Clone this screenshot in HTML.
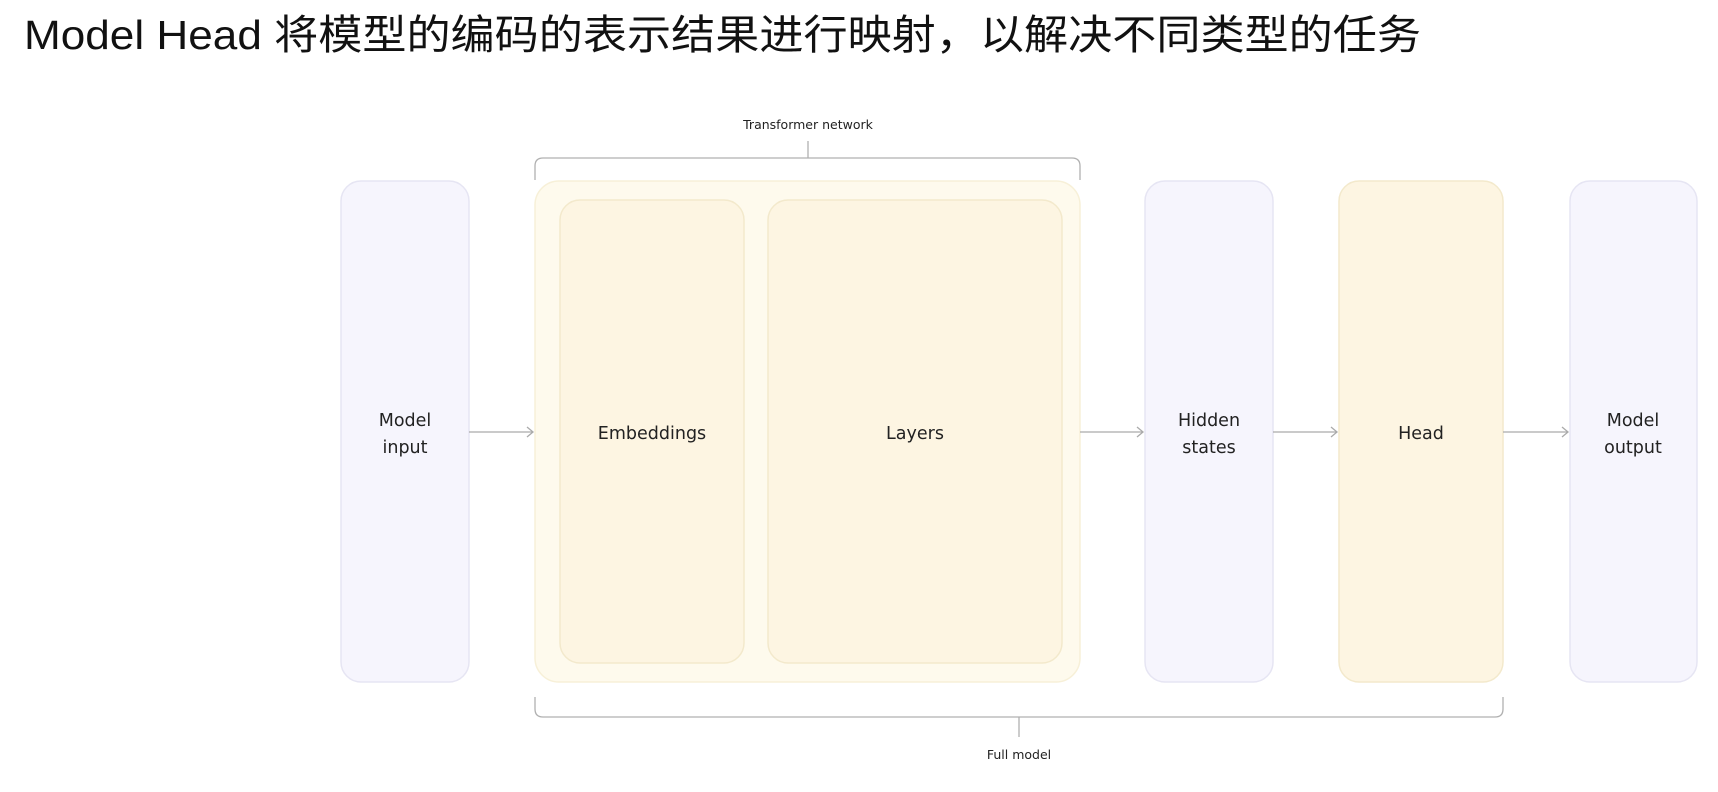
<!DOCTYPE html>
<html><head><meta charset="utf-8"><style>
html,body{margin:0;padding:0;background:#fff;width:1718px;height:792px;overflow:hidden}
svg{display:block}
</style></head><body>
<svg width="1718" height="792" viewBox="0 0 1718 792" xmlns="http://www.w3.org/2000/svg">
<text x="24" y="49" font-family="Liberation Sans, Noto Sans CJK SC, sans-serif" font-size="41" fill="#111" textLength="1397" lengthAdjust="spacingAndGlyphs">Model Head 将模型的编码的表示结果进行映射，以解决不同类型的任务</text>

<g font-family="DejaVu Sans, Liberation Sans, sans-serif" fill="#222" text-anchor="middle">
<text x="808" y="129" font-size="12.5">Transformer network</text>
<text x="1019" y="759" font-size="12.5">Full model</text>
</g>

<g fill="none" stroke="#b0b0b0" stroke-width="1.3">
<path d="M535 180 V166 Q535 158 543 158 H1072 Q1080 158 1080 166 V180"/>
<line x1="808" y1="141" x2="808" y2="158"/>
<path d="M535 697 V709 Q535 717 543 717 H1495 Q1503 717 1503 709 V697"/>
<line x1="1019" y1="717" x2="1019" y2="737"/>
</g>

<rect x="341" y="181" width="128" height="501" rx="20" fill="#f6f5fd" stroke="#e6e5f3" stroke-width="1.5"/>
<rect x="535" y="181" width="545" height="501" rx="24" fill="#fefaed" stroke="#f7f0d8" stroke-width="1.5"/>
<rect x="560" y="200" width="184" height="463" rx="20" fill="#fdf5e2" stroke="#f3e9cc" stroke-width="1.5"/>
<rect x="768" y="200" width="294" height="463" rx="20" fill="#fdf5e2" stroke="#f3e9cc" stroke-width="1.5"/>
<rect x="1145" y="181" width="128" height="501" rx="20" fill="#f6f5fd" stroke="#e6e5f3" stroke-width="1.5"/>
<rect x="1339" y="181" width="164" height="501" rx="20" fill="#fdf5e2" stroke="#f3e9cc" stroke-width="1.5"/>
<rect x="1570" y="181" width="127" height="501" rx="20" fill="#f6f5fd" stroke="#e6e5f3" stroke-width="1.5"/>

<g fill="none" stroke="#aaa" stroke-width="1.3">
<line x1="469" y1="432" x2="533" y2="432"/><path d="M527 427 L533 432 L527 437"/>
<line x1="1080" y1="432" x2="1143" y2="432"/><path d="M1137 427 L1143 432 L1137 437"/>
<line x1="1273" y1="432" x2="1337" y2="432"/><path d="M1331 427 L1337 432 L1331 437"/>
<line x1="1503" y1="432" x2="1568" y2="432"/><path d="M1562 427 L1568 432 L1562 437"/>
</g>

<g font-family="DejaVu Sans, Liberation Sans, sans-serif" font-size="17.5" fill="#222" text-anchor="middle">
<text x="405" y="426">Model</text><text x="405" y="453">input</text>
<text x="652" y="439">Embeddings</text>
<text x="915" y="439">Layers</text>
<text x="1209" y="426">Hidden</text><text x="1209" y="453">states</text>
<text x="1421" y="439">Head</text>
<text x="1633" y="426">Model</text><text x="1633" y="453">output</text>
</g>
</svg>
</body></html>
